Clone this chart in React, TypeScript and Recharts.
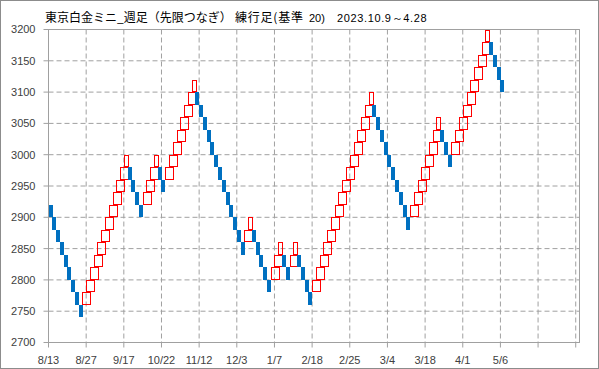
import React from 'react';
import { ComposedChart, Bar, XAxis, YAxis, CartesianGrid, ReferenceArea } from 'recharts';

// Renko brick lows (box size 20), one per column
const brickLows: number[] = [
  2900, 2880, 2860, 2840, 2820, 2800, 2780, 2760, 2740,
  2760, 2780, 2800, 2820, 2840, 2860, 2880, 2900, 2920, 2940, 2960, 2980,
  2960, 2940, 2920, 2900,
  2920, 2940, 2960, 2980,
  2960, 2940,
  2960, 2980, 3000, 3020, 3040, 3060, 3080, 3100,
  3080, 3060, 3040, 3020, 3000, 2980, 2960, 2940, 2920, 2900, 2880, 2860, 2840,
  2860, 2880,
  2860, 2840, 2820, 2800, 2780,
  2800, 2820, 2840,
  2820, 2800,
  2820, 2840,
  2820, 2800, 2780, 2760,
  2780, 2800, 2820, 2840, 2860, 2880, 2900, 2920, 2940, 2960, 2980, 3000, 3020, 3040, 3060, 3080,
  3060, 3040, 3020, 3000, 2980, 2960, 2940, 2920, 2900, 2880,
  2900, 2920, 2940, 2960, 2980, 3000, 3020, 3040,
  3020, 3000, 2980,
  3000, 3020, 3040, 3060, 3080, 3100, 3120, 3140, 3160, 3180,
  3160, 3140, 3120, 3100,
];

// Direction of each brick: U = up (red outline), D = down (blue fill)
const brickDirs: string[] = (
  'DDDDDDDDD' + 'UUUUUUUUUUUU' + 'DDDD' + 'UUUU' + 'DD' + 'UUUUUUUU' +
  'DDDDDDDDDDDDD' + 'UU' + 'DDDDD' + 'UUU' + 'DD' + 'UU' + 'DDDD' +
  'UUUUUUUUUUUUUUUU' + 'DDDDDDDDDD' + 'UUUUUUUU' + 'DDD' + 'UUUUUUUUUU' + 'DDDD'
).split('');

const BOX = 20;
const SLOTS = 141;

const xTickPositions = [0, 10, 20, 30, 40, 50, 60, 70, 80, 90, 100, 110, 120, 130, 140];
const xTickLabels = ['8/13', '8/27', '9/17', '10/22', '11/12', '12/3', '1/7', '2/18', '2/25', '3/4', '3/18', '4/1', '5/6', '', ''];
const yTicks = [2700, 2750, 2800, 2850, 2900, 2950, 3000, 3050, 3100, 3150, 3200];

const data = Array.from({ length: SLOTS }, (_, i) => ({
  idx: i,
  range: i < brickLows.length ? [brickLows[i], brickLows[i] + BOX] : null,
  dir: i < brickDirs.length ? brickDirs[i] : null,
  // an up brick is drawn two columns wide unless a down brick follows it
  span: brickDirs[i] === 'U' && brickDirs[i + 1] === 'U' ? 2 : 1,
}));

const Brick = (props: any) => {
  const { x, y, width, height, payload } = props;
  if (!payload || !payload.range || !isFinite(x) || !isFinite(y)) return null;
  const h = Math.abs(height);
  const top = height < 0 ? y + height : y;
  const yTop = Math.round(top);
  const yBot = Math.round(top + h);
  if (payload.dir === 'U') {
    const xl = Math.round(x);
    const xr = Math.round(x + width * payload.span);
    return (
      <rect x={xl + 0.5} y={yTop + 0.5} width={xr - xl} height={yBot - yTop - 1}
        fill="none" stroke="#FF0000" strokeWidth={1} />
    );
  }
  const xl = Math.round(x);
  const xr = Math.round(x + width);
  return <rect x={xl} y={yTop} width={xr - xl} height={yBot - yTop} fill="#0070C0" />;
};

const GRAY = '#A0A0A0';
const tickStyle = { fill: '#404040', fontSize: 11, fontFamily: 'Liberation Sans, Arial, sans-serif' };

export default function App() {
  return (
    <div style={{ position: 'absolute', left: 0, top: 0, width: 599, height: 369, background: '#fff' }}>
      <ComposedChart
        width={599}
        height={369}
        data={data}
        margin={{ top: 29.5, right: 19.5, bottom: 0, left: 0 }}
        barCategoryGap={0}
        barGap={0}
      >
        <CartesianGrid xAxisId="num" stroke={GRAY} strokeDasharray="5 3" />
        <XAxis
          xAxisId="num"
          dataKey="idx"
          type="number"
          domain={[0, SLOTS]}
          ticks={xTickPositions}
          interval={0}
          allowDataOverflow
          tickFormatter={(v: number) => xTickLabels[xTickPositions.indexOf(v)] ?? ''}
          tickSize={5}
          tickMargin={9}
          height={26.5}
          axisLine={{ stroke: GRAY }}
          tickLine={{ stroke: GRAY }}
          tick={tickStyle}
        />
        <XAxis xAxisId="cat" dataKey="idx" type="category" hide height={0} />
        <YAxis
          type="number"
          domain={[2700, 3200]}
          ticks={yTicks}
          interval={0}
          allowDataOverflow
          width={48.5}
          tickSize={5}
          tickMargin={8}
          axisLine={{ stroke: GRAY }}
          tickLine={{ stroke: GRAY }}
          tick={tickStyle}
        />
        <Bar xAxisId="cat" dataKey="range" shape={<Brick />} isAnimationActive={false} />
        <ReferenceArea xAxisId="num" x1={0} x2={SLOTS} y1={2700} y2={3200}
          fill="none" fillOpacity={0} stroke={GRAY} strokeWidth={1} ifOverflow="visible" />
      </ComposedChart>
      <svg width={599} height={369} style={{ position: 'absolute', left: 0, top: 0, pointerEvents: 'none' }}>
        <rect x={0.5} y={0.5} width={598} height={368} fill="none" stroke="#8C8C8C" />
        <text x={45} y={21.5} fontSize={12} fill="#000" fontFamily="'Noto Sans CJK JP', sans-serif">東京白金ミニ_週足（先限つなぎ）</text>
        <text x={235} y={21.5} fontSize={12} fill="#000" fontFamily="'Noto Sans CJK JP', sans-serif"
          textLength={68} lengthAdjust="spacing">練行足(基準</text>
        <text x={309} y={21.5} fontSize={11} fill="#000" fontFamily="Liberation Sans, Arial, sans-serif">20)</text>
        <text x={337} y={21.5} fontSize={11} fill="#000" fontFamily="Liberation Sans, Arial, sans-serif"
          textLength={89.5} lengthAdjust="spacing">2023.10.9～4.28</text>
      </svg>
    </div>
  );
}
